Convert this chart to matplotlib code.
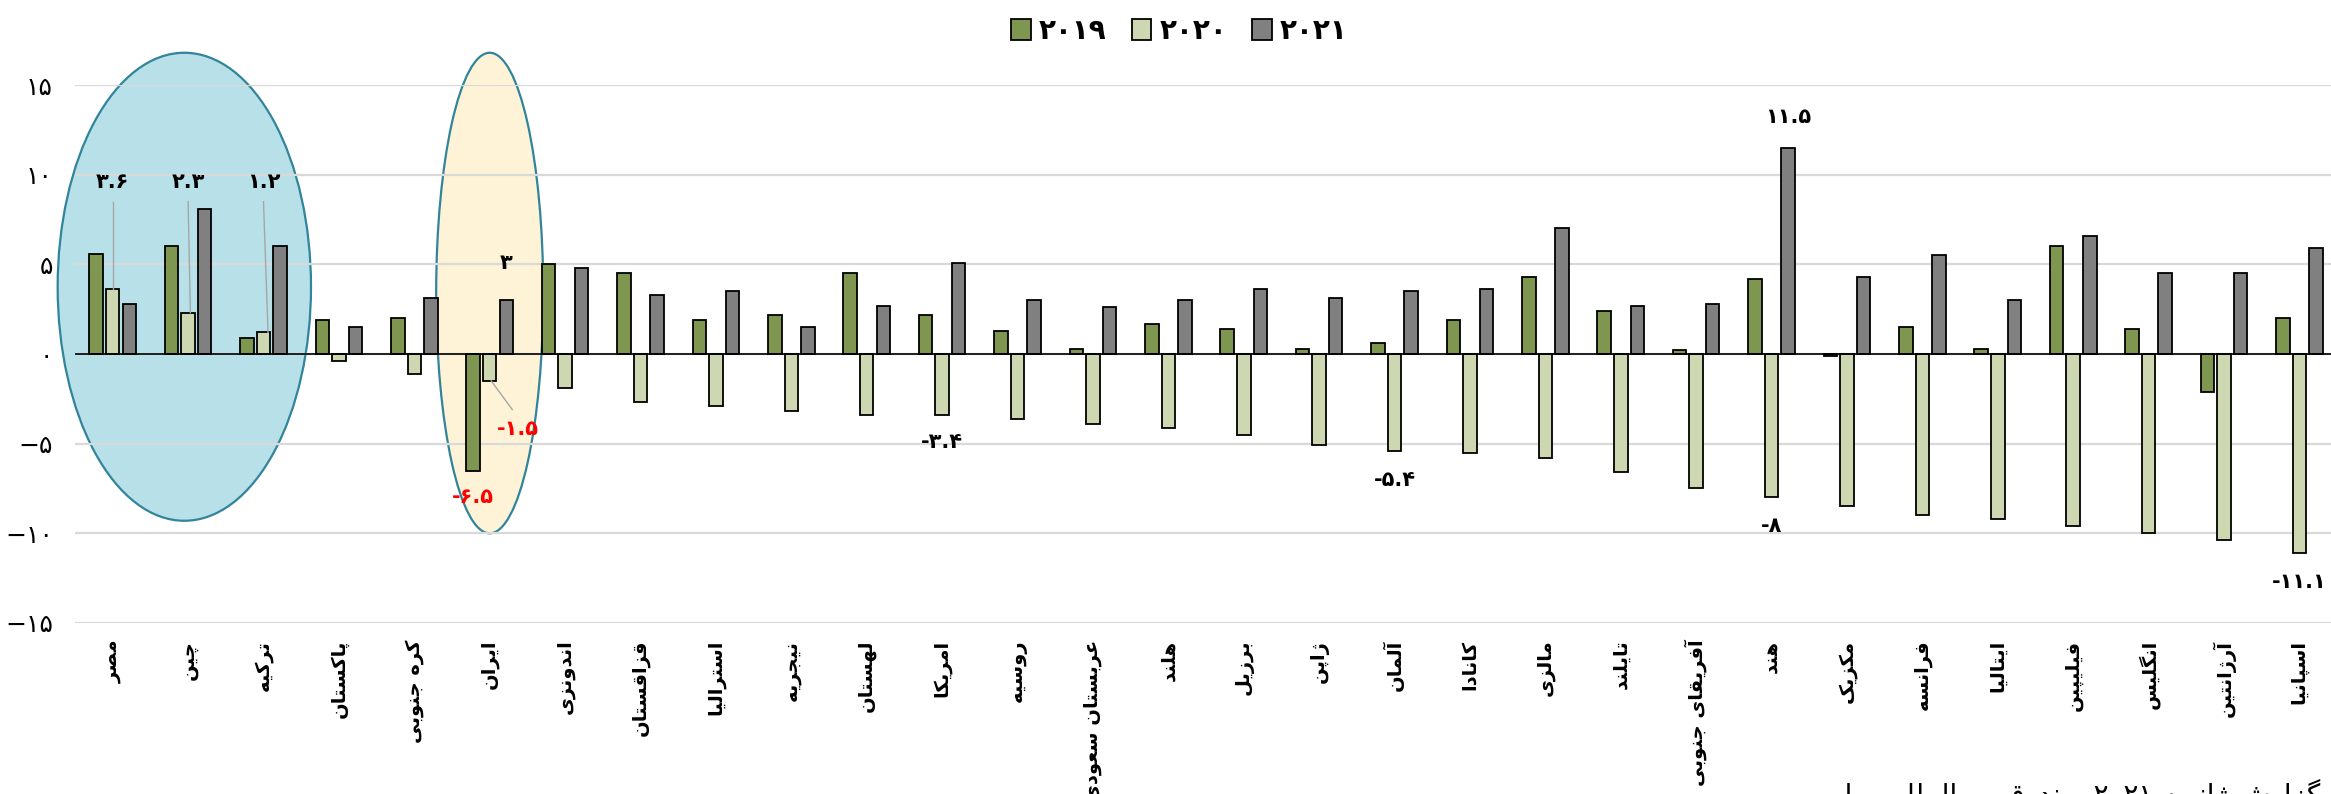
import matplotlib
matplotlib.use("Agg")
import matplotlib.pyplot as plt
from matplotlib.patches import Ellipse
import numpy as np


# =========================================
# DATA
# =========================================

countries = [
    "مصر", "چین", "ترکیه", "پاکستان", "کره جنوبی", "ایران", "اندونزی",
    "قزاقستان", "استرالیا", "نیجریه", "لهستان", "امریکا", "روسیه",
    "عربستان سعودی", "هلند", "برزیل", "ژاپن", "آلمان", "کانادا", "مالزی",
    "تایلند", "آفریقای جنوبی", "هند", "مکزیک", "فرانسه", "ایتالیا",
    "فیلیپین", "انگلیس", "آرژانتین", "اسپانیا",
]

values_2019 = [5.6, 6.0, 0.9, 1.9, 2.0, -6.5, 5.0, 4.5, 1.9, 2.2, 4.5, 2.2,
               1.3, 0.3, 1.7, 1.4, 0.3, 0.6, 1.9, 4.3, 2.4, 0.2, 4.2, -0.1,
               1.5, 0.3, 6.0, 1.4, -2.1, 2.0]

values_2020 = [3.6, 2.3, 1.2, -0.4, -1.1, -1.5, -1.9, -2.7, -2.9, -3.2, -3.4,
               -3.4, -3.6, -3.9, -4.1, -4.5, -5.1, -5.4, -5.5, -5.8, -6.6,
               -7.5, -8.0, -8.5, -9.0, -9.2, -9.6, -10.0, -10.4, -11.1]

values_2021 = [2.8, 8.1, 6.0, 1.5, 3.1, 3.0, 4.8, 3.3, 3.5, 1.5, 2.7, 5.1,
               3.0, 2.6, 3.0, 3.6, 3.1, 3.5, 3.6, 7.0, 2.7, 2.8, 11.5, 4.3,
               5.5, 3.0, 6.6, 4.5, 4.5, 5.9]

series_names = ["۲۰۱۹", "۲۰۲۰", "۲۰۲۱"]

y_ticks = [-15, -10, -5, 0, 5, 10, 15]

source_words = ["داده‌ها:", "گزارش", "ژانویه", "۲۰۲۱", "صندوق",
                "بین‌المللی", "پول"]


# =========================================
# PERSIAN SHAPING (no bidi lib here)
# =========================================

DUAL = {
    "ب": 0xFE8F, "ت": 0xFE95, "ث": 0xFE99, "ج": 0xFE9D, "ح": 0xFEA1,
    "خ": 0xFEA5, "س": 0xFEB1, "ش": 0xFEB5, "ص": 0xFEB9, "ض": 0xFEBD,
    "ط": 0xFEC1, "ظ": 0xFEC5, "ع": 0xFEC9, "غ": 0xFECD, "ف": 0xFED1,
    "ق": 0xFED5, "ل": 0xFEDD, "م": 0xFEE1, "ن": 0xFEE5, "ه": 0xFEE9,
    "پ": 0xFB56, "چ": 0xFB7A, "ک": 0xFB8E, "گ": 0xFB92, "ی": 0xFBFC,
}

RIGHT = {
    "ا": 0xFE8D, "آ": 0xFE81, "د": 0xFEA9, "ذ": 0xFEAB, "ر": 0xFEAD,
    "ز": 0xFEAF, "ژ": 0xFB8A, "و": 0xFEED,
}

FA_DIGITS = str.maketrans("0123456789", "۰۱۲۳۴۵۶۷۸۹")


def shape(text):

    # digits stay left-to-right
    if all(ch in "۰۱۲۳۴۵۶۷۸۹.0123456789" for ch in text):
        return text

    out = []

    i = 0

    while i < len(text):

        c = text[i]

        prev = text[i - 1] if i > 0 else ""

        nxt = text[i + 1] if i + 1 < len(text) else ""

        joins_prev = prev in DUAL

        if c == "ل" and nxt in ("ا", "آ"):

            base = 0xFEFB if nxt == "ا" else 0xFEF5

            out.append(chr(base + (1 if joins_prev else 0)))

            i += 2

            continue

        if c in DUAL:

            joins_next = nxt in DUAL or nxt in RIGHT

            if joins_prev and joins_next:
                k = 3
            elif joins_prev:
                k = 1
            elif joins_next:
                k = 2
            else:
                k = 0

            out.append(chr(DUAL[c] + k))

        elif c in RIGHT:

            out.append(chr(RIGHT[c] + (1 if joins_prev else 0)))

        elif c == "\u200c":

            pass

        else:

            out.append(c)

        i += 1

    return "".join(reversed(out))


def shape_line(words):

    # right-to-left line: words in reverse visual order
    return " ".join(shape(w) for w in reversed(words))


def fa_number(v):

    if float(v).is_integer():
        txt = str(int(v))
    else:
        txt = f"{v:.1f}"

    return txt.translate(FA_DIGITS)


# =========================================
# FIGURE
# =========================================

plt.rcParams["font.family"] = ["DejaVu Sans"]

fig = plt.figure(figsize=(23.31, 7.94), dpi=100)

ax = fig.add_axes([75 / 2331, 0.2154, 1 - 75 / 2331, 0.6775])

x = np.arange(len(countries))

offset = 0.22

width = 0.18

colors = ["#7F9650", "#CDD8B2", "#808080"]

all_values = [values_2019, values_2020, values_2021]

bars = []

for k, vals in enumerate(all_values):

    b = ax.bar(
        x + (k - 1) * offset,
        vals,
        width,
        color=colors[k],
        edgecolor="black",
        linewidth=1.3,
        zorder=3,
        label=series_names[k],
    )

    bars.append(b)

ax.axhline(0, color="black", linewidth=1.2, zorder=4)

# =====================================
# ELLIPSES
# =====================================

ax.add_patch(Ellipse((0.95, 3.75), 3.36, 26.1, facecolor="#B8E0E8",
                     edgecolor="#31849B", linewidth=1.6, zorder=0.2,
                     clip_on=False))

ax.add_patch(Ellipse((5.0, 3.4), 1.42, 26.8, facecolor="#FEF3D6",
                     edgecolor="#31849B", linewidth=1.6, zorder=0.2,
                     clip_on=False))

# =====================================
# AXES
# =====================================

ax.set_xlim(-0.5, 29.42)

ax.set_ylim(-15, 15)

ax.set_yticks(y_ticks)

ax.set_yticklabels([fa_number(t).replace("-", "−") for t in y_ticks],
                   fontsize=18)

ax.set_xticks(x)

ax.set_xticklabels([shape(c) for c in countries], rotation=90,
                   fontsize=14, fontweight="bold", va="top", ha="center")

ax.tick_params(axis="both", length=0)

ax.tick_params(axis="y", pad=16)

ax.tick_params(axis="x", pad=12)

for s in ax.spines.values():
    s.set_visible(False)

ax.set_axisbelow(True)

ax.grid(axis="y", color="#D9D9D9", linewidth=1.6, zorder=0.5)

# =====================================
# LABELS
# =====================================

lead = dict(color="#A6A6A6", linewidth=1.0, zorder=5)

for i in range(3):

    xb = x[i]

    ax.text(xb, 9.6, fa_number(values_2020[i]), ha="center", va="center",
            fontsize=15, fontweight="bold", zorder=6)

    ax.plot([xb, xb + 0.03 * i], [8.5, values_2020[i]], **lead)

ax.text(x[5] + offset, values_2021[5] + 2.1, fa_number(values_2021[5]),
        ha="center", va="center", fontsize=15, fontweight="bold")

ax.plot([x[5] + 0.02, x[5] + 0.3], [values_2020[5], values_2020[5] - 1.6],
        **lead)

ax.text(x[5] + 0.37, values_2020[5] - 2.7, fa_number(values_2020[5]),
        ha="center", va="center", fontsize=15, fontweight="bold",
        color="#FF0000")

ax.text(x[5] - offset, values_2019[5] - 1.5, fa_number(values_2019[5]),
        ha="center", va="center", fontsize=15, fontweight="bold",
        color="#FF0000")

for i, dy in [(11, -1.5), (17, -1.6), (22, -1.6), (29, -1.6)]:

    ax.text(x[i], values_2020[i] + dy, fa_number(values_2020[i]),
            ha="center", va="center", fontsize=15, fontweight="bold")

ax.text(x[22] + offset, values_2021[22] + 1.7, fa_number(values_2021[22]),
        ha="center", va="center", fontsize=15, fontweight="bold")

# =====================================
# LEGEND / SOURCE
# =====================================

fig.legend(
    handles=bars,
    labels=series_names,
    loc="upper center",
    bbox_to_anchor=(0.506, 1.01),
    ncol=3,
    frameon=False,
    prop={"size": 20, "weight": "bold"},
    handlelength=0.7,
    handleheight=0.8,
    handletextpad=0.3,
    columnspacing=0.9,
)

fig.text(0.786, 0.019, shape_line(source_words),
         ha="left", va="top", fontsize=20)

fig.savefig("out.png", dpi=100)
